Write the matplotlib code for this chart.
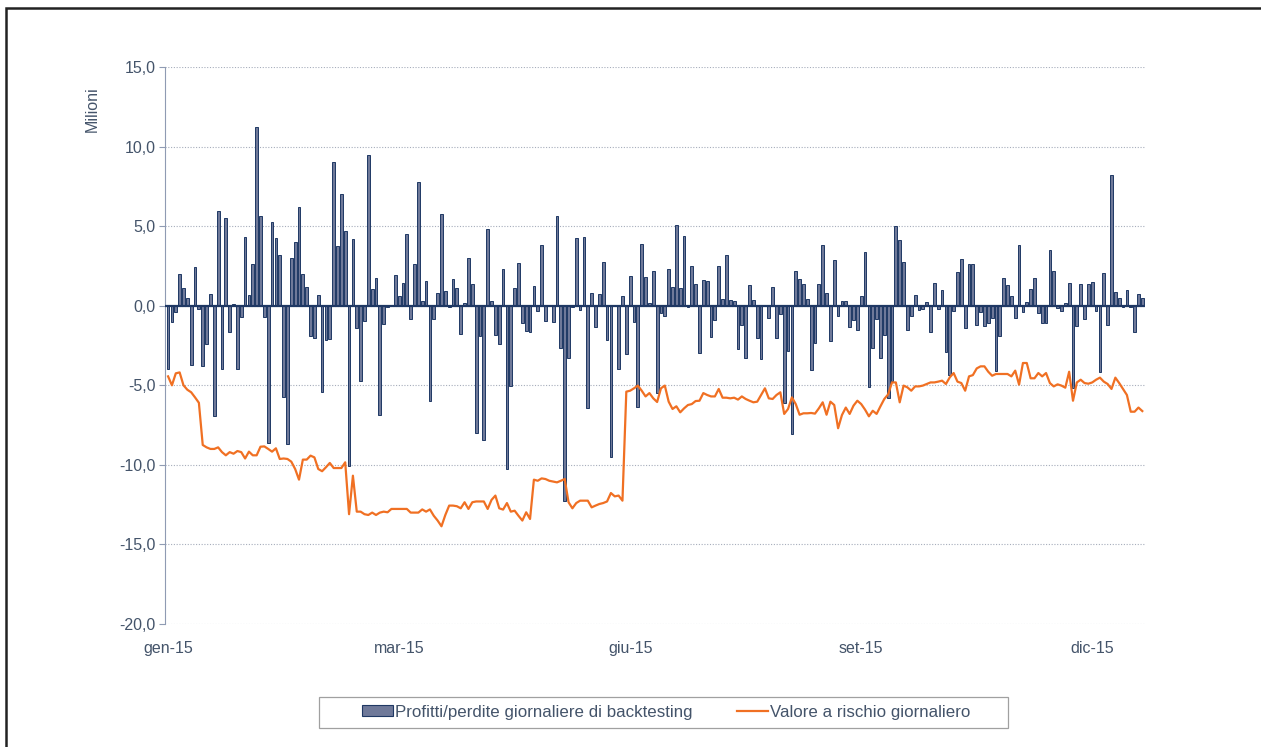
import matplotlib
matplotlib.use("Agg")
import matplotlib.pyplot as plt
from matplotlib.patches import Rectangle
from matplotlib.lines import Line2D
from matplotlib.ticker import FuncFormatter
import numpy as np

plt.rcParams['font.family'] = ['Liberation Sans', 'DejaVu Sans']

# Daily backtesting P&L (millions), one per trading day of 2015
pnl = [
    -4.0, -1.0, -0.4, 2.0, 1.1, 0.5, -3.7, 2.45, -0.2, -3.8,
    -2.4, 0.75, -6.9, 5.95, -3.95, 5.5, -1.65, 0.08, -4.0, -0.7,
    4.3, 0.65, 2.65, 11.25, 5.65, -0.7, -8.6, 5.27, 4.23, 3.16,
    -5.75, -8.7, 2.97, 4.0, 6.2, 2.0, 1.2, -1.9, -2.0, 0.7,
    -5.45, -2.18, -2.1, 9.0, 3.77, 7.0, 4.7, -10.1, 4.2, -1.42,
    -4.75, -0.94, 9.46, 1.03, 1.76, -6.87, -1.17, -0.1, 0.0, 1.95,
    0.6, 1.4, 4.48, -0.84, 2.6, 7.75, 0.3, 1.53, -5.97, -0.86,
    0.82, 5.78, 0.92, -0.1, 1.7, 1.09, -1.78, 0.15, 2.97, 1.36,
    -7.98, -1.93, -8.42, 4.82, 0.3, -1.84, -2.4, 2.28, -10.26, -5.07,
    1.09, 2.68, -1.09, -1.57, -1.67, 1.21, -0.31, 3.81, -0.98, 0.0,
    -1.0, 5.65, -2.64, -12.3, -3.29, -0.1, 4.25, -0.29, 4.31, -6.4,
    0.8, -1.34, 0.75, 2.76, -2.14, -9.5, 0.0, -4.0, 0.59, -3.04,
    1.84, -1.05, -6.37, 3.87, 1.8, 0.15, 2.18, -5.5, -0.48, -0.67,
    2.28, 1.15, 5.1, 1.13, 4.36, -0.1, 2.51, 1.38, -3.0, 1.63,
    1.55, -1.99, -0.9, 2.47, 0.42, 3.18, 0.38, 0.31, -2.7, -1.24,
    -3.31, 1.32, 0.36, -2.0, -3.35, 0.0, -0.8, 1.15, -2.0, -0.54,
    -6.13, -2.87, -8.08, 2.2, 1.65, 1.34, 0.4, -4.04, -2.37, 1.34,
    3.79, 0.77, -2.2, 2.89, -0.67, 0.27, 0.29, -1.34, -0.88, -1.55,
    0.61, 3.35, -5.09, -2.64, -0.86, -3.29, -1.86, -5.82, -4.71, 4.98,
    4.15, 2.76, -1.55, -0.67, 0.65, -0.29, -0.21, 0.25, -1.67, 1.4,
    -0.23, 0.98, -2.89, -4.33, -0.36, 2.11, 2.91, -1.4, 2.6, 2.6,
    -1.21, -0.4, -1.3, -1.07, -0.75, -4.12, -1.93, 1.72, 1.28, 0.61,
    -0.8, 3.81, -0.42, 0.21, 1.05, 1.72, -0.46, -1.07, -1.07, 3.48,
    2.16, -0.17, -0.33, 0.17, 1.4, -5.19, -1.28, 1.38, -0.86, 1.34,
    1.47, -0.33, -4.19, 2.07, -1.24, 8.19, 0.88, 0.46, -0.1, 0.96,
    -0.1, -1.67, 0.75, 0.48,
]

# Daily value at risk (millions)
var = [
    -4.44, -5.0, -4.25, -4.19, -5.0, -5.28, -5.44, -5.76, -6.1, -8.75,
    -8.9, -9.0, -9.0, -8.9, -9.2, -9.4, -9.2, -9.3, -9.13, -9.2,
    -9.6, -9.17, -9.4, -9.4, -8.86, -8.84, -9.0, -9.17, -8.96, -9.63,
    -9.6, -9.63, -9.8, -10.26, -10.93, -9.67, -9.67, -9.42, -9.53, -10.26,
    -10.4, -10.15, -9.88, -10.2, -10.2, -10.2, -9.84, -13.1, -10.68, -12.94,
    -12.94, -13.1, -13.15, -13.0, -13.15, -13.0, -12.94, -12.98, -12.77, -12.77,
    -12.77, -12.77, -12.77, -13.0, -13.0, -13.0, -12.8, -12.94, -12.8, -13.2,
    -13.5, -13.86, -13.15, -12.56, -12.56, -12.6, -12.73, -12.35, -12.77, -12.35,
    -12.3, -12.3, -12.3, -12.77, -12.2, -11.93, -12.73, -12.81, -12.4, -12.94,
    -12.88, -13.2, -13.5, -12.98, -13.4, -10.93, -11.0, -10.85, -10.89, -11.0,
    -11.05, -11.1, -11.0, -10.89, -12.35, -12.73, -12.4, -12.25, -12.25, -12.25,
    -12.67, -12.56, -12.46, -12.4, -12.3, -11.77, -11.98, -11.93, -12.25, -5.4,
    -5.34, -5.19, -5.02, -5.34, -5.7, -5.49, -5.82, -6.05, -5.19, -5.02,
    -6.03, -6.49, -6.32, -6.7, -6.45, -6.24, -6.18, -5.99, -5.97, -5.49,
    -5.61, -5.7, -5.7, -5.23, -5.78, -5.78, -5.82, -5.78, -5.9, -5.7,
    -5.86, -5.97, -6.07, -6.03, -5.61, -5.19, -5.82, -5.86, -5.61, -5.44,
    -6.8, -6.49, -5.76, -6.18, -6.85, -6.76, -6.76, -6.74, -6.78, -6.45,
    -6.07, -6.85, -6.03, -6.24, -7.7, -6.87, -6.4, -6.8, -6.28, -5.97,
    -6.18, -6.53, -6.95, -6.6, -6.8, -6.32, -5.86, -5.57, -4.82, -4.82,
    -6.07, -5.02, -5.13, -5.34, -5.07, -5.07, -5.02, -4.92, -4.82, -4.82,
    -4.77, -4.71, -4.92, -4.5, -4.23, -4.77, -4.86, -5.34, -4.44, -4.36,
    -3.94, -3.81, -3.81, -4.15, -4.4, -4.29, -4.29, -4.29, -4.29, -4.44,
    -4.08, -4.96, -3.6, -3.6, -4.56, -4.56, -4.23, -4.44, -4.23, -4.86,
    -5.07, -4.94, -5.02, -5.15, -4.15, -5.97, -4.82, -4.65, -4.86, -4.9,
    -4.82, -4.65, -4.52, -4.77, -4.92, -5.23, -4.52, -4.86, -5.23, -5.61,
    -6.66, -6.66, -6.4, -6.62,
]

tick_labels = ["gen-15", "mar-15", "giu-15", "set-15", "dic-15"]
tick_days = [0, 60, 120, 180, 240]
y_ticks = [-20, -15, -10, -5, 0, 5, 10, 15]

text_col = "#44546a"
bar_fill = "#6f7999"
bar_edge = "#1f3864"
line_col = "#f07023"

W, H = 1261, 747
fig = plt.figure(figsize=(W / 100, H / 100), dpi=100)
# outer frame: only top and left edges are visible in the picture
fig.patches.append(Rectangle((6 / W, -0.05), 1.2, 1.05 - 8 / H, transform=fig.transFigure,
                             fill=False, edgecolor="#222222", linewidth=1.8))

ax = fig.add_axes([165 / W, 1 - 624 / H, (1145 - 165) / W, (624 - 67) / H])

n = min(len(pnl), len(var))
x = np.arange(n)
ax.bar(x, pnl[:n], width=0.72, color=bar_fill, edgecolor=bar_edge, linewidth=0.7, zorder=2,
       label="Profitti/perdite giornaliere di backtesting")
ax.plot(x, var[:n], color=line_col, linewidth=1.6, zorder=3,
        label="Valore a rischio giornaliero")
ax.axhline(0, color=bar_edge, linewidth=1.6, zorder=4)

ax.set_ylim(-20, 15)
ax.set_xlim(-0.8, n - 0.3)
ax.set_yticks(y_ticks)
ax.yaxis.set_major_formatter(FuncFormatter(lambda v, p: f"{v:.1f}".replace(".", ",")))
ax.set_xticks(tick_days)
ax.set_xticklabels(tick_labels)
ax.grid(axis="y", linestyle=(0, (1, 1.5)), color="#a6adbb", linewidth=0.8, zorder=0)
for s in ["top", "right", "bottom"]:
    ax.spines[s].set_visible(False)
ax.spines["left"].set_color("#8f9bb3")
ax.tick_params(axis="y", colors="#8f9bb3", labelcolor=text_col, labelsize=11.5, length=4, pad=3)
ax.tick_params(axis="x", length=0, labelcolor=text_col, labelsize=11.5, pad=12)

fig.text(92 / W, 1 - 109 / H, "Milioni", rotation=90, ha="center", va="center",
         color=text_col, fontsize=11.5)

# legend box drawn separately
fig.patches.append(Rectangle((319 / W, 1 - 728 / H), (1008 - 319) / W, (728 - 697) / H,
                             transform=fig.transFigure, fill=False,
                             edgecolor="#a0a0a0", linewidth=0.9))
handles = [Rectangle((0, 0), 1, 1, facecolor=bar_fill, edgecolor=bar_edge, linewidth=0.8),
           Line2D([0], [0], color=line_col, linewidth=1.6)]
leg = fig.legend(handles, ["Profitti/perdite giornaliere di backtesting", "Valore a rischio giornaliero"],
                 loc="center", bbox_to_anchor=(666 / W, 1 - 712 / H), ncol=2,
                 frameon=False, fontsize=12.2, labelcolor=text_col,
                 handlelength=1.85, handleheight=0.6, handletextpad=0.1, columnspacing=2.65)

fig.savefig("out.png", dpi=100)
